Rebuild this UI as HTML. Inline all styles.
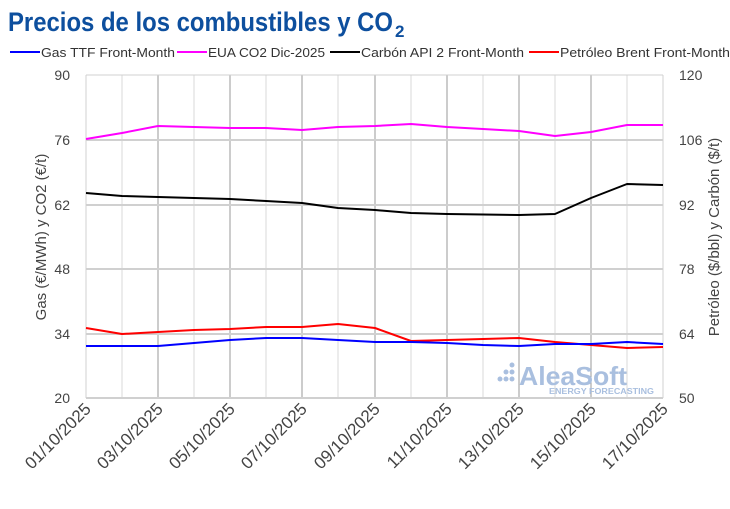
<!DOCTYPE html>
<html><head><meta charset="utf-8"><style>body{margin:0;background:#fff}svg{display:block}</style></head><body>
<svg width="730" height="509" viewBox="0 0 730 509" xmlns="http://www.w3.org/2000/svg" font-family="Liberation Sans, sans-serif">
<text x="8" y="31" font-size="27" font-weight="bold" fill="#0d4f9e" textLength="385" lengthAdjust="spacingAndGlyphs">Precios de los combustibles y CO</text>
<text x="395" y="37" font-size="17" font-weight="bold" fill="#0d4f9e">2</text>
<g font-size="13" fill="#333">
<line x1="10" y1="52" x2="40" y2="52" stroke="#0000ff" stroke-width="2"/><text x="41" y="57" textLength="134" lengthAdjust="spacingAndGlyphs">Gas TTF Front-Month</text>
<line x1="177" y1="52" x2="207" y2="52" stroke="#ff00ff" stroke-width="2"/><text x="208" y="57" textLength="117" lengthAdjust="spacingAndGlyphs">EUA CO2 Dic-2025</text>
<line x1="330" y1="52" x2="360" y2="52" stroke="#000" stroke-width="2"/><text x="361" y="57" textLength="163" lengthAdjust="spacingAndGlyphs">Carbón API 2 Front-Month</text>
<line x1="529" y1="52" x2="559" y2="52" stroke="#ff0000" stroke-width="2"/><text x="560" y="57" textLength="170" lengthAdjust="spacingAndGlyphs">Petróleo Brent Front-Month</text>
</g>
<g stroke="#d9d9d9" stroke-width="1">
<line x1="122" y1="75" x2="122" y2="398"/><line x1="194" y1="75" x2="194" y2="398"/><line x1="266" y1="75" x2="266" y2="398"/><line x1="338" y1="75" x2="338" y2="398"/><line x1="411" y1="75" x2="411" y2="398"/><line x1="483" y1="75" x2="483" y2="398"/><line x1="555" y1="75" x2="555" y2="398"/><line x1="627" y1="75" x2="627" y2="398"/>
</g>
<g stroke="#999" stroke-width="1">
<line x1="158" y1="75" x2="158" y2="398"/><line x1="230" y1="75" x2="230" y2="398"/><line x1="302" y1="75" x2="302" y2="398"/><line x1="375" y1="75" x2="375" y2="398"/><line x1="447" y1="75" x2="447" y2="398"/><line x1="519" y1="75" x2="519" y2="398"/><line x1="591" y1="75" x2="591" y2="398"/>
</g>
<g stroke="#d0d0d0" stroke-width="2">
<line x1="86" y1="75" x2="663" y2="75" stroke-width="1"/><line x1="86" y1="140" x2="663" y2="140"/><line x1="86" y1="205" x2="663" y2="205"/><line x1="86" y1="269" x2="663" y2="269"/><line x1="86" y1="334" x2="663" y2="334"/><line x1="86" y1="398" x2="663" y2="398"/>
<line x1="86" y1="75" x2="86" y2="398" stroke-width="1"/><line x1="663" y1="75" x2="663" y2="398" stroke-width="1"/>
</g>
<g font-size="14" fill="#444">
<text x="70" y="80" text-anchor="end">90</text><text x="70" y="145" text-anchor="end">76</text><text x="70" y="210" text-anchor="end">62</text><text x="70" y="274" text-anchor="end">48</text><text x="70" y="339" text-anchor="end">34</text><text x="70" y="403" text-anchor="end">20</text>
<text x="679" y="80">120</text><text x="679" y="145">106</text><text x="679" y="210">92</text><text x="679" y="274">78</text><text x="679" y="339">64</text><text x="679" y="403">50</text>
<text transform="translate(46,237) rotate(-90)" text-anchor="middle" font-size="15">Gas (€/MWh) y CO2 (€/t)</text>
<text transform="translate(719,237) rotate(-90)" text-anchor="middle" font-size="15">Petróleo ($/bbl) y Carbón ($/t)</text>
</g>
<g font-size="17" fill="#444" text-anchor="end">
<text transform="translate(92,410) rotate(-45)">01/10/2025</text>
<text transform="translate(164,410) rotate(-45)">03/10/2025</text>
<text transform="translate(236,410) rotate(-45)">05/10/2025</text>
<text transform="translate(308,410) rotate(-45)">07/10/2025</text>
<text transform="translate(381,410) rotate(-45)">09/10/2025</text>
<text transform="translate(453,410) rotate(-45)">11/10/2025</text>
<text transform="translate(525,410) rotate(-45)">13/10/2025</text>
<text transform="translate(597,410) rotate(-45)">15/10/2025</text>
<text transform="translate(669,410) rotate(-45)">17/10/2025</text>
</g>
<g fill="#a9bfdf">
<circle cx="500" cy="379" r="2.5"/><circle cx="506" cy="379" r="2.5"/><circle cx="512" cy="379" r="2.5"/><circle cx="506" cy="372" r="2.5"/><circle cx="512" cy="372" r="2.5"/><circle cx="512" cy="365" r="2.5"/>
<text x="519" y="385" font-size="26" font-weight="bold" textLength="108" lengthAdjust="spacingAndGlyphs">AleaSoft</text>
<text x="549" y="394" font-size="8" font-weight="bold" textLength="105" lengthAdjust="spacingAndGlyphs">ENERGY FORECASTING</text>
</g>
<g fill="none" stroke-width="2" stroke-linejoin="round">
<polyline stroke="#ff00ff" points="86,139 122,133 158,126 194,127 230,128 266,128 302,130 338,127 375,126 411,124 447,127 483,129 519,131 555,136 591,132 627,125 663,125"/>
<polyline stroke="#000" points="86,193 122,196 158,197 194,198 230,199 266,201 302,203 338,208 375,210 411,213 447,214 483,214.5 519,215 555,214 591,198 627,184 663,185"/>
<polyline stroke="#ff0000" points="86,328 122,334 158,332 194,330 230,329 266,327 302,327 338,324 375,328 411,341 447,340 483,339 519,338 555,342 591,345 627,348 663,347"/>
<polyline stroke="#0000ff" points="86,346 122,346 158,346 194,343 230,340 266,338 302,338 338,340 375,342 411,342 447,343 483,345 519,346 555,344 591,344 627,342 663,344"/>
</g>
</svg>
</body></html>
